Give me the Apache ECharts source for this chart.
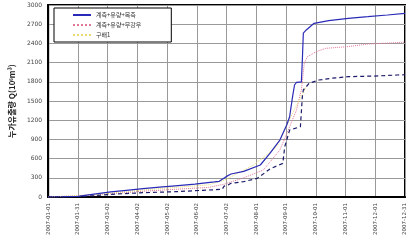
<!DOCTYPE html>
<html>
<head>
<meta charset="utf-8">
<script src="https://cdn.jsdelivr.net/npm/echarts@6/dist/echarts.min.js"></script>
<style>
  html, body { margin: 0; padding: 0; background: #fff; }
  #chart { width: 408px; height: 243px; }
</style>
</head>
<body>
<div id="chart"></div>
<script>
// day of year (0 = 2007-01-01) and cumulative runoff
const tickLabels = ['2007-01-01', '2007-01-31', '2007-03-02', '2007-04-02', '2007-05-02', '2007-06-02',
  '2007-07-02', '2007-08-01', '2007-09-01', '2007-10-01', '2007-11-01', '2007-12-01', '2007-12-31'];

const obsDays = [0, 15, 30, 47, 64, 80, 97, 114, 130, 150, 170, 175, 182, 187, 200, 217, 227, 237, 244, 247, 250, 252, 254, 259, 260, 261, 264, 272, 287, 307, 327, 347, 365];
const obsValues = [0, 3, 10, 45, 80, 105, 130, 155, 175, 200, 235, 245, 318, 359, 400, 500, 687, 890, 1125, 1255, 1567, 1750, 1790, 1800, 2140, 2560, 2610, 2714, 2755, 2792, 2817, 2844, 2870];

const noRainDays = [0, 47, 97, 130, 164, 180, 200, 220, 237, 247, 254, 259, 262, 265, 274, 284, 307, 327, 354, 365];
const noRainValues = [0, 30, 90, 120, 150, 200, 300, 420, 734, 1098, 1360, 1672, 2090, 2190, 2270, 2323, 2350, 2390, 2410, 2420];

const slopeDays = [0, 47, 97, 164, 180, 210, 234, 250, 257, 264];
const slopeValues = [0, 35, 110, 190, 260, 500, 786, 1312, 1516, 1723];

const lowDays = [0, 30, 47, 64, 97, 130, 164, 178, 180, 184, 187, 200, 214, 227, 240, 242, 247, 258, 260, 261, 264, 267, 277, 290, 307, 334, 357, 365];
const lowValues = [0, 5, 20, 42, 67, 83, 109, 120, 170, 188, 214, 240, 292, 440, 525, 786, 1047, 1098, 1567, 1672, 1723, 1777, 1828, 1855, 1880, 1890, 1906, 1910];

const zip = (xs, ys) => xs.map((x, i) => [x, ys[i]]);
const step = 365 / 12;

const chart = echarts.init(document.getElementById('chart'));

chart.setOption({
  animation: false,
  grid: {
    left: 43, top: 5, right: 0, bottom: 46,
    show: true, borderColor: '#000', borderWidth: 2
  },
  legend: {
    orient: 'vertical',
    left: 54, top: 8,
    data: ['계측+유량+목측', '계측+유량+무강우', '구배1'],
    backgroundColor: '#fff',
    borderColor: '#000',
    borderWidth: 1,
    borderRadius: 0,
    padding: [4, 30, 4, 18],
    itemGap: 4,
    itemWidth: 18,
    itemHeight: 7,
    itemStyle: { opacity: 0 },
    textStyle: { fontSize: 6, color: '#333', fontFamily: 'Noto Sans CJK KR' }
  },
  xAxis: {
    type: 'value',
    min: 0, max: 365, interval: step,
    axisLine: { lineStyle: { color: '#000', width: 2 } },
    axisTick: { show: false },
    splitLine: { lineStyle: { color: '#999', width: 1 } },
    axisLabel: {
      rotate: 90,
      fontSize: 5.5,
      color: '#444',
      fontFamily: 'DejaVu Sans',
      margin: 6,
      formatter: v => tickLabels[Math.round(v / step)] || ''
    }
  },
  yAxis: {
    type: 'value',
    min: 0, max: 3000, interval: 300,
    name: '누가유출량 Q(10⁶m³)',
    nameLocation: 'middle',
    nameGap: 29,
    nameTextStyle: { fontSize: 8, fontWeight: 'bold', color: '#222', fontFamily: 'Noto Sans CJK KR' },
    axisLine: { show: true, lineStyle: { color: '#000', width: 2 } },
    axisTick: { show: false },
    splitLine: { lineStyle: { color: '#999', width: 1 } },
    axisLabel: { fontSize: 6, color: '#444', fontFamily: 'DejaVu Sans', margin: 6, formatter: v => String(v) }
  },
  series: [
    {
      name: '계측+유량+무강우', type: 'line', symbol: 'none',
      data: zip(noRainDays, noRainValues),
      lineStyle: { color: '#e07898', width: 1, type: 'dotted' },
      itemStyle: { color: '#e07898' }
    },
    {
      name: '구배1', type: 'line', symbol: 'none',
      data: zip(slopeDays, slopeValues),
      lineStyle: { color: '#e8dc70', width: 1, type: 'dotted' },
      itemStyle: { color: '#e8dc70' }
    },
    {
      name: '계측+유량', type: 'line', symbol: 'none',
      data: zip(lowDays, lowValues),
      lineStyle: { color: '#1c1c6a', width: 1.2, type: [4, 3] },
      itemStyle: { color: '#1c1c6a' }
    },
    {
      name: '계측+유량+목측', type: 'line', symbol: 'none',
      data: zip(obsDays, obsValues),
      lineStyle: { color: '#2a2ab8', width: 1.2 },
      itemStyle: { color: '#2a2ab8' }
    }
  ]
});
</script>
</body>
</html>
